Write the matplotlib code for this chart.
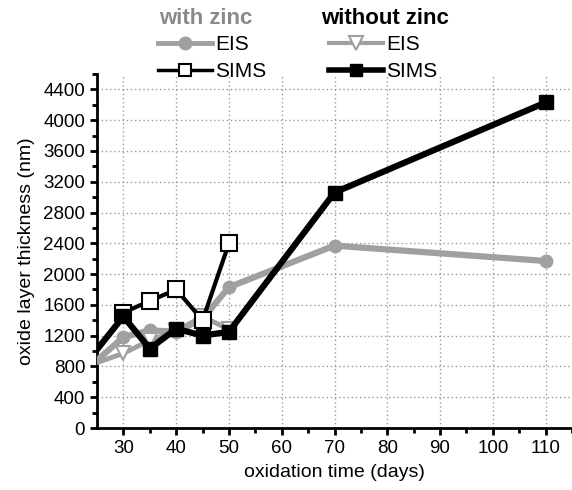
import matplotlib
matplotlib.use("Agg")
import matplotlib.pyplot as plt
from matplotlib.lines import Line2D

plt.rcParams['font.family'] = ['Liberation Sans', 'DejaVu Sans']

# data (days, nm)
days_eis_zn = [20, 30, 35, 40, 45, 50, 70, 110]
eis_zn = [580, 1180, 1270, 1250, 1420, 1830, 2370, 2170]

days_eis_nozn = [20, 30, 35, 40, 45, 50]
eis_nozn = [730, 970, 1140, 1260, 1450, 1280]

days_sims_zn = [30, 35, 40, 45, 50]
sims_zn = [1500, 1650, 1800, 1400, 2400]

days_sims_nozn = [20, 30, 35, 40, 45, 50, 70, 110]
sims_nozn = [590, 1450, 1030, 1290, 1200, 1250, 3060, 4230]

xticks = [30, 40, 50, 60, 70, 80, 90, 100, 110]
yticks = list(range(0, 4401, 400))

fig = plt.figure(figsize=(5.72, 4.90), dpi=100)
ax = fig.add_axes([97/572, 1 - 428/490, 1 - 97/572, (428 - 74)/490])

gray = '#a0a0a0'
ax.plot(days_eis_zn, eis_zn, color=gray, lw=4.5, marker='o', ms=9,
        mfc=gray, mec=gray, zorder=3)
ax.plot(days_eis_nozn, eis_nozn, color=gray, lw=3.5, marker='v', ms=10,
        mfc='white', mec=gray, mew=1.5, zorder=3)
ax.plot(days_sims_zn, sims_zn, color='black', lw=3, marker='s', ms=11,
        mfc='white', mec='black', mew=1.5, zorder=4)
ax.plot(days_sims_nozn, sims_nozn, color='black', lw=4.5, marker='s', ms=10,
        mfc='black', mec='black', zorder=4)

ax.set_xlim(25, 114.8)
ax.set_ylim(0, 4476)
ax.set_xticks(xticks)
ax.set_yticks(yticks)
ax.set_xticks([x + 5 for x in [25] + xticks], minor=True)
ax.set_yticks([y + 200 for y in yticks], minor=True)
ax.grid(True, which='major', color='#9a9a9a', linestyle=(0, (1, 2)), lw=1)
ax.set_axisbelow(True)

for s in ['top', 'right']:
    ax.spines[s].set_visible(False)
for s in ['left', 'bottom']:
    ax.spines[s].set_linewidth(2)
ax.tick_params(which='major', direction='out', length=5, width=2, labelsize=13.5)
ax.tick_params(which='minor', direction='out', length=3.5, width=2)

ax.set_xlabel('oxidation time (days)', fontsize=14, labelpad=5)
ax.set_ylabel('oxide layer thickness (nm)', fontsize=14, labelpad=6)

h1 = Line2D([], [], color=gray, lw=3.5, marker='o', ms=9, mfc=gray, mec=gray)
h2 = Line2D([], [], color='black', lw=2.5, marker='s', ms=9, mfc='white', mec='black', mew=1.5)
h3 = Line2D([], [], color=gray, lw=3, marker='v', ms=10, mfc='white', mec=gray, mew=1.5)
h4 = Line2D([], [], color='black', lw=4, marker='s', ms=9, mfc='black', mec='black')
fig.legend([h1, h2, h3, h4], ['EIS', 'SIMS', 'EIS', 'SIMS'], ncol=2,
           loc='upper left', bbox_to_anchor=(158/572, 1 - 35/490),
           frameon=False, fontsize=15, handlelength=2.6, handletextpad=0.15,
           columnspacing=3.0, labelspacing=0.4, borderaxespad=0, borderpad=0)

fig.text(159/572, 1 - 18/490, 'with zinc', color='#8a8a8a', fontsize=16,
         fontweight='bold', va='center', ha='left')
fig.text(321/572, 1 - 18/490, 'without zinc', color='black', fontsize=16,
         fontweight='bold', va='center', ha='left')

fig.savefig('out.png', dpi=100)
